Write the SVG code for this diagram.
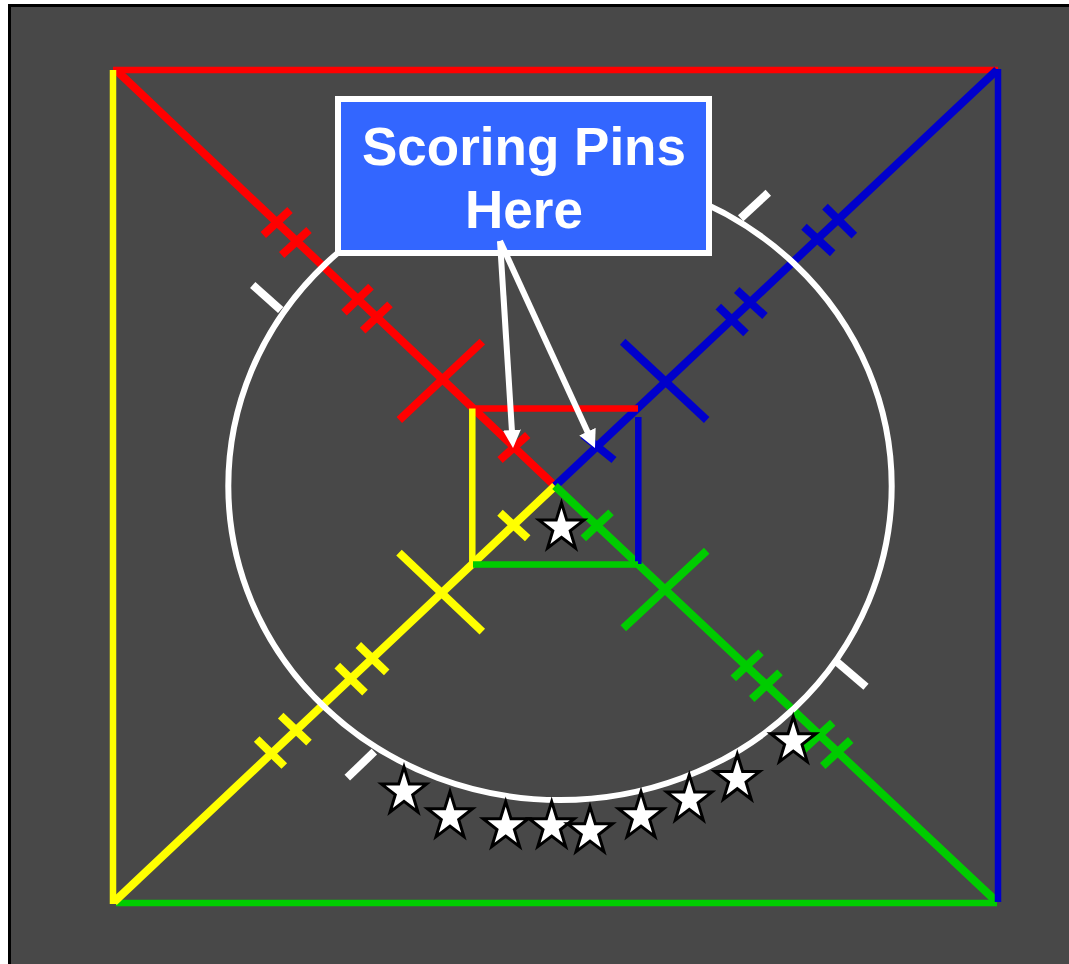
<svg xmlns="http://www.w3.org/2000/svg" width="1069" height="964" viewBox="0 0 1069 964">
<style>
.r{stroke:#ff0000}.b{stroke:#0000cc}.y{stroke:#ffff00}.g{stroke:#00cc00}.w{stroke:#ffffff}
line{fill:none}
#connectors line{stroke-width:8}
#connectors .o,#connectors .i{stroke-width:6.5}
#pointers line{stroke-width:6}
.star{fill:#fff;stroke:#000;stroke-width:3;stroke-miterlimit:10}
text{font-family:"Liberation Sans",Arial,sans-serif;font-weight:700;font-size:53px;fill:#fff;text-anchor:middle}
</style>
<defs>
<marker id="ah" markerUnits="userSpaceOnUse" markerWidth="20" markerHeight="20" refX="8" refY="9" orient="auto"><path d="M0 0L18 9L0 18Z" fill="#fff"/></marker>
<polygon id="st" class="star" points="0,-23.8 5.3,-6.6 22.5,-6.6 8.7,4.1 13.9,21.2 0,10.7 -13.9,21.2 -8.7,4.1 -22.5,-6.6 -5.3,-6.6"/>
</defs>
<rect id="frame" x="9.5" y="5.5" width="1100" height="1000" fill="#484848" stroke="#000" stroke-width="3"/>
<g id="connectors">
<line class="r o" x1="113" y1="70" x2="998" y2="70"/>
<line class="g o" x1="116" y1="903" x2="997" y2="903"/>
<line class="r" x1="116" y1="70" x2="555" y2="486"/>
<line class="b" x1="997" y1="70" x2="555" y2="486"/>
<line class="y" x1="114" y1="902" x2="555" y2="486"/>
<line class="g" x1="997" y1="902" x2="555" y2="486"/>
<line class="y o" x1="113" y1="70" x2="113" y2="904"/>
<line class="b o" x1="998" y1="69" x2="998" y2="902"/>
<line class="r i" x1="473" y1="408.5" x2="638" y2="408.5"/>
<line class="y i" x1="472.3" y1="408.5" x2="472.3" y2="565"/>
<line class="b i" x1="638.3" y1="417" x2="638.3" y2="564"/>
<line class="g i" x1="473" y1="564.5" x2="638" y2="564.5"/>
<line class="r" x1="263.3" y1="235" x2="290" y2="210"/>
<line class="r" x1="281.7" y1="255" x2="309" y2="230"/>
<line class="r" x1="344" y1="312.7" x2="371" y2="286.7"/>
<line class="r" x1="362.7" y1="330.7" x2="390" y2="304.3"/>
<line class="r" x1="399.3" y1="420" x2="482.3" y2="341.7"/>
<line class="r" x1="500" y1="460" x2="527.7" y2="435"/>
<line class="b" x1="825" y1="206.7" x2="854.3" y2="235.7"/>
<line class="b" x1="804" y1="226.7" x2="832.7" y2="253.3"/>
<line class="b" x1="736.7" y1="290" x2="765" y2="316"/>
<line class="b" x1="718.3" y1="306.7" x2="746" y2="333.3"/>
<line class="b" x1="622.7" y1="341.7" x2="706.7" y2="420"/>
<line class="b" x1="583" y1="435" x2="614" y2="460"/>
<line class="y" x1="358.3" y1="645" x2="386.7" y2="672.3"/>
<line class="y" x1="337.3" y1="665.7" x2="365" y2="692.7"/>
<line class="y" x1="280.7" y1="715.7" x2="309" y2="742.7"/>
<line class="y" x1="256.7" y1="739" x2="284.3" y2="766"/>
<line class="y" x1="399" y1="552.7" x2="482.3" y2="631.7"/>
<line class="y" x1="500" y1="512.7" x2="527.7" y2="538.3"/>
<line class="g" x1="583.3" y1="538.3" x2="611" y2="512.3"/>
<line class="g" x1="623.3" y1="628.3" x2="706.7" y2="550.7"/>
<line class="g" x1="733.3" y1="678.3" x2="761" y2="652.3"/>
<line class="g" x1="751.7" y1="699" x2="780" y2="672.3"/>
<line class="g" x1="803" y1="750" x2="832.7" y2="722.7"/>
<line class="g" x1="822.7" y1="766" x2="850.7" y2="740"/>
<line class="w" x1="740.7" y1="218.3" x2="768.3" y2="192.7"/>
<line class="w" x1="252.7" y1="285" x2="280.7" y2="310"/>
<line class="w" x1="836.7" y1="661.7" x2="866" y2="686.7"/>
<line class="w" x1="347.3" y1="777.7" x2="374.3" y2="751.7"/>
</g>
<ellipse id="ring" cx="560" cy="486" rx="331.7" ry="314" fill="none" stroke="#fff" stroke-width="6"/>
<g id="label">
<rect x="338" y="99" width="371" height="154" fill="#3366ff" stroke="#fff" stroke-width="6"/>
<text x="524" y="165">Scoring Pins</text>
<text x="524" y="228">Here</text>
</g>
<g id="pointers">
<line class="w" x1="500" y1="241" x2="512.4" y2="438" marker-end="url(#ah)"/>
<line class="w" x1="500" y1="241" x2="590.8" y2="438.9" marker-end="url(#ah)"/>
</g>
<g id="stars">
<use href="#st" x="561.5" y="526.7"/>
<use href="#st" x="404" y="790.7"/>
<use href="#st" x="450" y="815.4"/>
<use href="#st" x="505.7" y="825.4"/>
<use href="#st" x="551.7" y="825.4"/>
<use href="#st" x="590" y="830.4"/>
<use href="#st" x="641" y="815.4"/>
<use href="#st" x="689.3" y="798.7"/>
<use href="#st" x="737.3" y="778"/>
<use href="#st" x="793.3" y="740.4"/>
</g>
</svg>
